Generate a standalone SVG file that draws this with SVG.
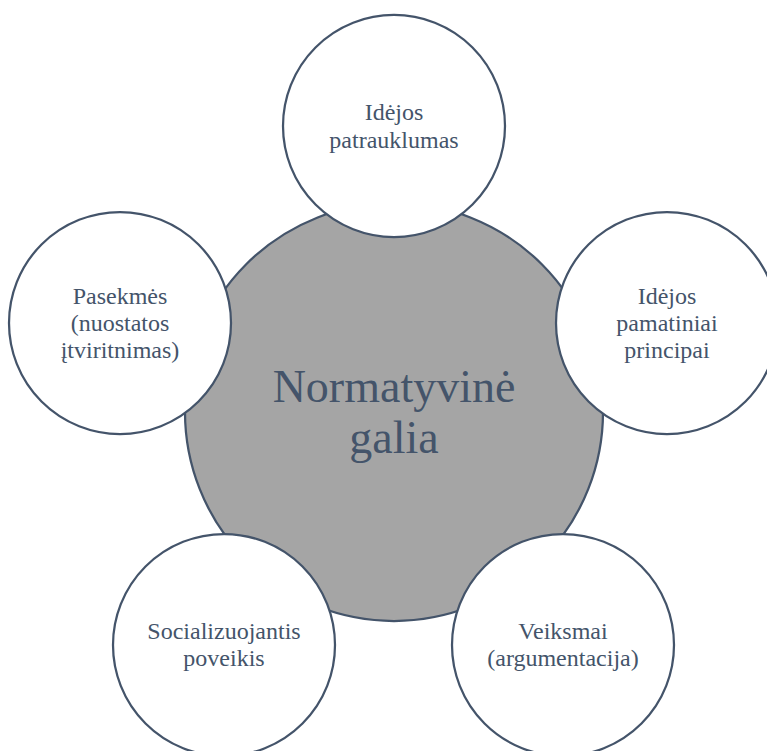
<svg xmlns="http://www.w3.org/2000/svg" width="767" height="751" viewBox="0 0 767 751">
  <style>
    .hub { fill: #a5a5a5; stroke: #44546a; stroke-width: 2.25; }
    .sat { fill: #ffffff; stroke: #44546a; stroke-width: 2.25; }
    text { font-family: "Liberation Serif", "Times New Roman", serif; fill: #44546a; text-anchor: middle; }
  </style>
  <rect width="767" height="751" fill="#ffffff"/>
  <g id="connectors"></g>

  <!-- central hub -->
  <g id="hub" font-family="Liberation Serif, serif" font-size="46">
    <circle class="hub" cx="394" cy="412" r="209"/>
    <text x="394" y="402">Normatyvinė</text>
    <text x="394" y="453">galia</text>
  </g>

  <!-- surrounding nodes -->
  <g id="node-patrauklumas" font-family="Liberation Serif, serif" font-size="24">
    <circle class="sat" cx="394" cy="126" r="111"/>
    <text x="394" y="120">Idėjos</text>
    <text x="394" y="148">patrauklumas</text>
  </g>

  <g id="node-principai" font-family="Liberation Serif, serif" font-size="24">
    <circle class="sat" cx="667" cy="323" r="111"/>
    <text x="667" y="304">Idėjos</text>
    <text x="667" y="331">pamatiniai</text>
    <text x="667" y="358">principai</text>
  </g>

  <g id="node-veiksmai" font-family="Liberation Serif, serif" font-size="24">
    <circle class="sat" cx="563" cy="645" r="111"/>
    <text x="563" y="639">Veiksmai</text>
    <text x="563" y="666">(argumentacija)</text>
  </g>

  <g id="node-socializuojantis" font-family="Liberation Serif, serif" font-size="24">
    <circle class="sat" cx="224" cy="645" r="111"/>
    <text x="224" y="639">Socializuojantis</text>
    <text x="224" y="666">poveikis</text>
  </g>

  <g id="node-pasekmes" font-family="Liberation Serif, serif" font-size="24">
    <circle class="sat" cx="120" cy="323" r="111"/>
    <text x="120" y="304">Pasekmės</text>
    <text x="120" y="331">(nuostatos</text>
    <text x="120" y="358">įtviritnimas)</text>
  </g>
</svg>
